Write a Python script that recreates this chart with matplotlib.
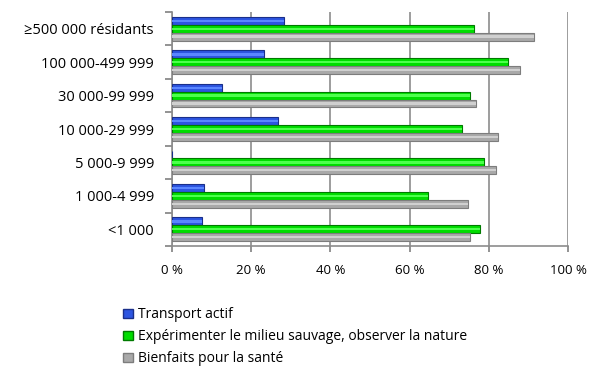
import matplotlib.pyplot as plt
import numpy as np
from matplotlib.patches import Patch

plt.rcParams['font.family'] = ['Open Sans', 'DejaVu Sans']

categories = ['<1 000', '1 000-4 999', '5 000-9 999', '10 000-29 999',
              '30 000-99 999', '100 000-499 999', '≥500 000 résidants']
transport = [7.6, 8.1, 0, 26.8, 12.6, 23.2, 28.3]
nature = [77.8, 64.6, 78.8, 73.2, 75.3, 84.8, 76.3]
sante = [75.3, 74.7, 81.8, 82.3, 76.8, 87.9, 91.4]
series_names = ['Transport actif',
                'Expérimenter le milieu sauvage, observer la nature',
                'Bienfaits pour la santé']

fig = plt.figure(figsize=(5.95, 3.66), dpi=100)
ax = fig.add_axes([0.289, 0.328, 0.666, 0.639])

y = np.arange(len(categories))
h = 0.235
styles = [('#2d55e0', '#1a2f8a', '#5a86ff'),
          ('#00dd00', '#007a00', '#4dff4d'),
          ('#a9a9a9', '#7d7d7d', '#d0d0d0')]
for i, vals in enumerate([transport, nature, sante]):
    face, edge, light = styles[i]
    pos = y + h - i * h
    ax.barh(pos, vals, height=h, color=face, edgecolor=edge, linewidth=0.8, zorder=3)
    ax.barh(pos, vals, height=h * 0.3, color=light, linewidth=0, zorder=4)

ax.set_xlim(0, 100)
ax.set_ylim(-0.5, len(categories) - 0.5)
ax.set_xticks(np.arange(0, 101, 20))
ax.set_xticklabels([f'{v} %' for v in range(0, 101, 20)], fontsize=9.5)
ax.set_yticks(y)
ax.set_yticklabels(categories, fontsize=10.5)
ax.set_yticks(np.arange(-0.5, len(categories)), minor=True)
ax.tick_params(axis='y', which='major', length=0, pad=13)
ax.tick_params(axis='y', which='minor', length=5, color='#808080', width=1.2)
ax.tick_params(axis='x', length=4, color='#808080', width=1.2, pad=9)
ax.grid(axis='x', color='#8c8c8c', linewidth=1.2, zorder=0)
for s in ['top', 'right']:
    ax.spines[s].set_visible(False)
for s in ['left', 'bottom']:
    ax.spines[s].set_color('#8c8c8c')
    ax.spines[s].set_linewidth(1.2)

handles = [Patch(facecolor=styles[i][0], edgecolor=styles[i][1], label=series_names[i])
           for i in range(3)]
fig.legend(handles=handles, loc='upper left', bbox_to_anchor=(0.207, 0.16),
           frameon=False, fontsize=10, handlelength=0.7, handleheight=0.7,
           handletextpad=0.35, labelspacing=0.5, borderaxespad=0, borderpad=0)

fig.savefig('out.png', dpi=100)
